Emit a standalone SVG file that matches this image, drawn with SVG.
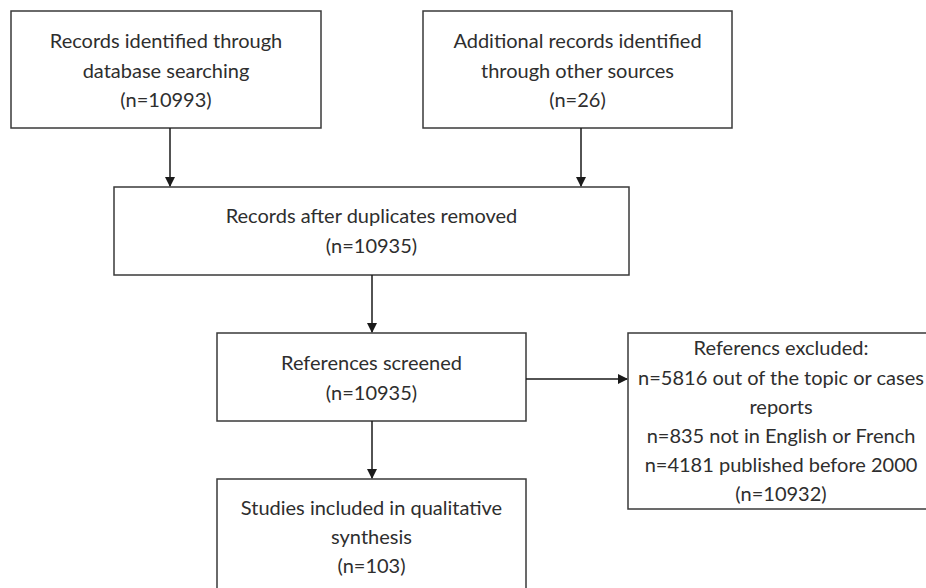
<svg xmlns="http://www.w3.org/2000/svg" width="926" height="588" viewBox="0 0 926 588">
<defs>
<marker id="ah" markerWidth="10" markerHeight="10" refX="9" refY="5" orient="auto" markerUnits="userSpaceOnUse">
<path d="M0,0 L10,5 L0,10 Z" fill="#1a1a1a"/>
</marker>
<style>
.box{fill:#fff;stroke:#3a3a3a;stroke-width:1.5}
.t{font-family:Lato,"Open Sans","Liberation Sans",sans-serif;font-size:20px;fill:#2e2e2e;text-anchor:middle}
.c{stroke:#1a1a1a;stroke-width:1.5;fill:none;marker-end:url(#ah)}
</style>
</defs>
<rect width="926" height="588" fill="#fff"/>
<g id="n1"><rect class="box" x="11" y="11" width="310" height="117"/>
<text class="t" x="166" y="48">Records identified through</text>
<text class="t" x="166" y="78">database searching</text>
<text class="t" x="166" y="107">(n=10993)</text></g>
<g id="n2"><rect class="box" x="423" y="11" width="309" height="117"/>
<text class="t" x="577.5" y="48">Additional records identified</text>
<text class="t" x="577.5" y="78">through other sources</text>
<text class="t" x="577.5" y="107">(n=26)</text></g>
<g id="n3"><rect class="box" x="114" y="187" width="515" height="88"/>
<text class="t" x="371.5" y="223">Records after duplicates removed</text>
<text class="t" x="371.5" y="253">(n=10935)</text></g>
<g id="n4"><rect class="box" x="217" y="333" width="309" height="88"/>
<text class="t" x="371.5" y="370">References screened</text>
<text class="t" x="371.5" y="400">(n=10935)</text></g>
<g id="n5"><rect class="box" x="628" y="333" width="310" height="176"/>
<text class="t" x="781" y="355">Referencs excluded:</text>
<text class="t" x="781" y="385">n=5816 out of the topic or cases</text>
<text class="t" x="781" y="414">reports</text>
<text class="t" x="781" y="443">n=835 not in English or French</text>
<text class="t" x="781" y="472">n=4181 published before 2000</text>
<text class="t" x="781" y="501">(n=10932)</text></g>
<g id="n6"><rect class="box" x="217" y="479" width="309" height="130"/>
<text class="t" x="371.5" y="515">Studies included in qualitative</text>
<text class="t" x="371.5" y="544">synthesis</text>
<text class="t" x="371.5" y="573">(n=103)</text></g>
<g id="connectors">
<line class="c" x1="170" y1="128" x2="170" y2="186"/>
<line class="c" x1="581" y1="128" x2="581" y2="186"/>
<line class="c" x1="372" y1="275" x2="372" y2="332"/>
<line class="c" x1="526" y1="379" x2="627" y2="379"/>
<line class="c" x1="372" y1="421" x2="372" y2="478"/>
</g>
</svg>
